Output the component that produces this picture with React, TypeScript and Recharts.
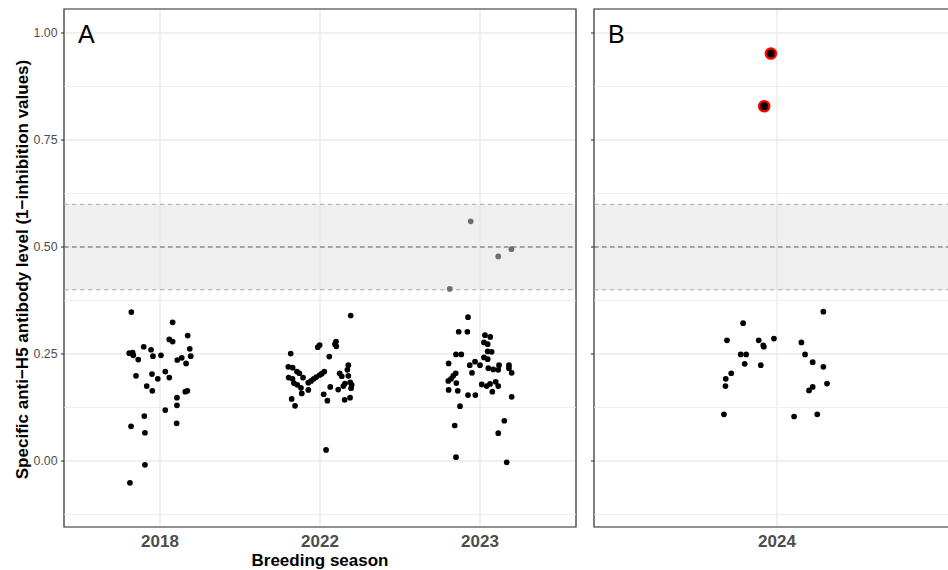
import React from 'react';
import { ScatterChart, Scatter, XAxis, YAxis, CartesianGrid, ReferenceArea, ReferenceLine } from 'recharts';

const FONT = '"Liberation Sans", Arial, Helvetica, sans-serif';

const seasonsA = ['2018', '2022', '2023'];
const seasonsB = ['2024'];
const yTicks = [0, 0.25, 0.5, 0.75, 1];
const yMinorTicks = [-0.125, 0.125, 0.375, 0.625, 0.875];
const yDomain: [number, number] = [-0.1542, 1.0561];
const bandLow = 0.4;
const bandMid = 0.5;
const bandHigh = 0.6;

// [horizontal jitter (category units), antibody level]
const points2018: [number, number][] = [
  [-0.179, 0.348], [0.079, 0.324], [0.173, 0.293], [0.058, 0.284], [0.079, 0.279],
  [-0.102, 0.267], [-0.056, 0.260], [0.186, 0.262], [-0.192, 0.252], [-0.171, 0.253],
  [-0.167, 0.247], [-0.136, 0.237], [-0.044, 0.245], [0.006, 0.247], [0.136, 0.241],
  [0.108, 0.236], [0.192, 0.245], [0.163, 0.228], [0.033, 0.209], [-0.050, 0.203],
  [-0.014, 0.192], [0.058, 0.195], [-0.150, 0.199], [-0.083, 0.175], [-0.048, 0.164],
  [0.158, 0.162], [0.171, 0.164], [0.106, 0.148], [0.106, 0.130], [0.033, 0.119],
  [-0.098, 0.105], [-0.181, 0.081], [-0.094, 0.066], [0.104, 0.088], [-0.094, -0.009],
  [-0.188, -0.051],
];

const points2022: [number, number][] = [
  [0.192, 0.340], [0.100, 0.279], [0.094, 0.273], [0.102, 0.268], [-0.002, 0.271],
  [-0.014, 0.266], [-0.183, 0.251], [0.058, 0.244], [0.177, 0.224], [-0.198, 0.220],
  [-0.171, 0.218], [-0.144, 0.209], [-0.129, 0.205], [-0.196, 0.195], [-0.172, 0.192],
  [-0.106, 0.195], [0.027, 0.209], [0.011, 0.204], [-0.002, 0.201], [-0.023, 0.196],
  [-0.039, 0.192], [-0.056, 0.187], [-0.073, 0.183], [0.123, 0.205], [0.136, 0.198],
  [0.171, 0.213], [0.177, 0.199], [0.189, 0.184], [0.198, 0.178], [0.194, 0.170],
  [-0.163, 0.182], [-0.142, 0.178], [-0.119, 0.171], [-0.114, 0.158], [-0.073, 0.166],
  [0.064, 0.173], [0.114, 0.167], [0.146, 0.175], [0.156, 0.181], [0.023, 0.156],
  [0.046, 0.141], [0.154, 0.143], [0.188, 0.148], [-0.177, 0.145], [-0.156, 0.129],
  [0.038, 0.026],
];

const points2023: [number, number][] = [
  [-0.058, 0.560], [-0.189, 0.402], [0.114, 0.478], [0.196, 0.495],
  [-0.075, 0.336], [-0.133, 0.302], [-0.079, 0.302], [0.031, 0.294], [0.064, 0.290],
  [0.025, 0.277], [0.048, 0.273], [0.048, 0.256], [0.073, 0.255], [-0.150, 0.249],
  [-0.117, 0.249], [0.025, 0.242], [0.048, 0.238], [-0.196, 0.228], [-0.031, 0.232],
  [0.000, 0.224], [-0.064, 0.224], [0.052, 0.217], [0.083, 0.214], [0.119, 0.224],
  [0.114, 0.213], [0.181, 0.224], [0.181, 0.217], [0.198, 0.206], [-0.050, 0.206],
  [-0.152, 0.205], [-0.167, 0.199], [-0.181, 0.192], [-0.198, 0.187], [-0.148, 0.182],
  [0.011, 0.179], [0.042, 0.175], [0.063, 0.180], [0.098, 0.185], [0.114, 0.175],
  [0.077, 0.162], [-0.196, 0.166], [-0.139, 0.164], [-0.075, 0.154], [-0.029, 0.154],
  [0.198, 0.150], [-0.125, 0.128], [0.152, 0.094], [-0.158, 0.083], [0.114, 0.065],
  [-0.150, 0.009], [0.167, -0.003],
];

const points2024: [number, number][] = [
  [0.152, 0.349], [-0.111, 0.322], [-0.164, 0.282], [-0.060, 0.282], [-0.010, 0.286],
  [-0.045, 0.270], [-0.043, 0.267], [0.080, 0.277], [-0.119, 0.249], [-0.101, 0.249],
  [0.092, 0.249], [-0.106, 0.227], [-0.053, 0.224], [0.117, 0.231], [0.152, 0.220],
  [-0.150, 0.205], [-0.168, 0.192], [-0.169, 0.175], [0.164, 0.181], [0.117, 0.173],
  [0.105, 0.165], [-0.174, 0.109], [0.056, 0.104], [0.132, 0.109],
];

const highlighted2024: [number, number][] = [
  [-0.020, 0.952], [-0.042, 0.829],
];

const toData = (pts: [number, number][], catIndex: number) =>
  pts.map(([dx, v]) => ({ x: catIndex + 1 + dx, y: v }));

const dataA = [
  ...toData(points2018, 0),
  ...toData(points2022, 1),
  ...toData(points2023, 2),
];
const dataB = toData(points2024, 0);
const dataBHighlight = toData(highlighted2024, 0);

// points lying under the translucent band look grey
const inBand = (v: number) => v >= bandLow && v <= bandHigh;

const Dot = (props: any) => {
  const v = props.payload ? props.payload.y : props.y;
  return <circle cx={props.cx} cy={props.cy} r={2.85} fill={inBand(v) ? '#6E6E6E' : '#000'} />;
};
const RedDot = (props: any) => (
  <circle cx={props.cx} cy={props.cy} r={5.1} fill="#000" stroke="#FF0000" strokeWidth={2.4} />
);

function Panel({ data, highlight, categories, showYLabels }: any) {
  const n = categories.length;
  const xDomain: [number, number] = [0.4, n + 0.6];
  const xTicks = categories.map((_: string, i: number) => i + 1);
  return (
    <>
      <CartesianGrid stroke="#EBEBEB" strokeWidth={1.4} />
      {yMinorTicks.map((v) => (
        <ReferenceLine key={'m' + v} y={v} stroke="#EBEBEB" strokeWidth={0.8} />
      ))}
      <XAxis
        type="number"
        dataKey="x"
        domain={xDomain}
        ticks={xTicks}
        interval={0}
        allowDataOverflow
        tickFormatter={(v: number) => categories[Math.round(v) - 1]}
        tickLine={false}
        axisLine={false}
        tickSize={0}
        tickMargin={8}
        height={43}
        tick={{ fill: '#4D4D4D', fontSize: 17, fontWeight: 'bold', fontFamily: FONT }}
      />
      <YAxis
        type="number"
        dataKey="y"
        domain={yDomain}
        ticks={yTicks}
        interval={0}
        allowDataOverflow
        tickFormatter={(v: number) => (showYLabels ? v.toFixed(2) : '')}
        axisLine={false}
        tickLine={{ stroke: '#333333', strokeWidth: 1.1 }}
        tickSize={3}
        tickMargin={3.5}
        width={showYLabels ? 64 : 34}
        tick={{ fill: '#4D4D4D', fontSize: 12.3, fontFamily: FONT }}
      />
      <ReferenceArea y1={bandLow} y2={bandHigh} fill="#E0E0E0" fillOpacity={0.5} stroke="none" />
      <ReferenceLine y={bandLow} stroke="#ABABAB" strokeWidth={1.1} strokeDasharray="4.5 3.5" />
      <ReferenceLine y={bandHigh} stroke="#ABABAB" strokeWidth={1.1} strokeDasharray="4.5 3.5" />
      <ReferenceLine y={bandMid} stroke="#5A5A5A" strokeWidth={1.1} strokeDasharray="4.5 3.5" />
      <Scatter data={data} shape={Dot} isAnimationActive={false} />
      {highlight ? <Scatter data={highlight} shape={RedDot} isAnimationActive={false} /> : null}
      <ReferenceArea
        x1={xDomain[0]}
        x2={xDomain[1]}
        y1={yDomain[0]}
        y2={yDomain[1]}
        fill="none"
        stroke="#333333"
        strokeWidth={1.2}
      />
    </>
  );
}

export default function App() {
  return (
    <div
      style={{
        position: 'absolute',
        left: 0,
        top: 0,
        width: 948,
        height: 570,
        overflow: 'hidden',
        background: '#fff',
        fontFamily: FONT,
      }}
    >
      <div style={{ position: 'absolute', left: 0, top: 0 }}>
        <ScatterChart width={580} height={570} margin={{ top: 9, right: 4, bottom: 0, left: 0 }}>
          {Panel({ data: dataA, highlight: null, categories: seasonsA, showYLabels: true })}
        </ScatterChart>
      </div>
      <div style={{ position: 'absolute', left: 560, top: 0 }}>
        <ScatterChart width={410} height={570} margin={{ top: 9, right: 10, bottom: 0, left: 0 }}>
          {Panel({ data: dataB, highlight: dataBHighlight, categories: seasonsB, showYLabels: false })}
        </ScatterChart>
      </div>
      <svg
        width={948}
        height={570}
        style={{ position: 'absolute', left: 0, top: 0, pointerEvents: 'none' }}
      >
        <text x={78} y={43} fontSize={25} fontFamily={FONT} fill="#000">A</text>
        <text x={608} y={43} fontSize={25} fontFamily={FONT} fill="#000">B</text>
        <text
          transform="translate(27.5, 269.5) rotate(-90)"
          textAnchor="middle"
          fontSize={17}
          fontWeight="bold"
          fontFamily={FONT}
          fill="#000"
        >
          Specific anti−H5 antibody level (1−inhibition values)
        </text>
        <text x={320} y={566} textAnchor="middle" fontSize={17} fontWeight="bold" fontFamily={FONT} fill="#000">
          Breeding season
        </text>
      </svg>
    </div>
  );
}
